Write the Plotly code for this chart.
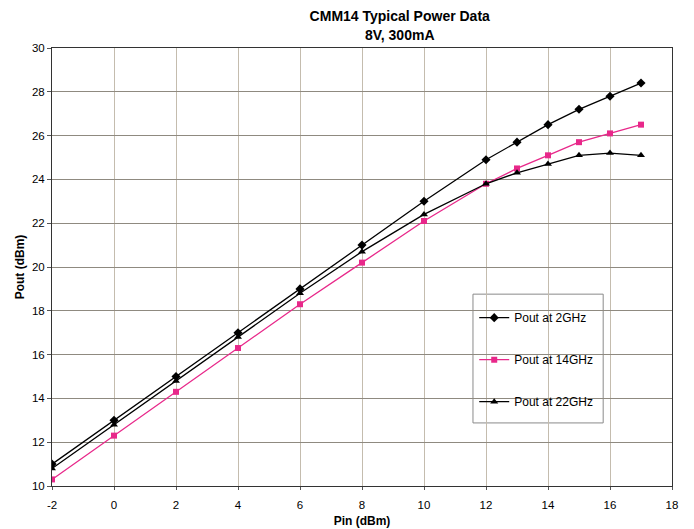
import plotly.graph_objects as go

pin = [-2, 0, 2, 4, 6, 8, 10, 12, 13, 14, 15, 16, 17]
pout_2ghz = [11.0, 13.0, 15.0, 17.0, 19.0, 21.0, 23.0, 24.9, 25.7, 26.5, 27.2, 27.8, 28.4]
pout_14ghz = [10.3, 12.3, 14.3, 16.3, 18.3, 20.2, 22.1, 23.8, 24.5, 25.1, 25.7, 26.1, 26.5]
pout_22ghz = [10.8, 12.8, 14.8, 16.8, 18.8, 20.7, 22.4, 23.8, 24.3, 24.7, 25.1, 25.2, 25.1]

x_tick_vals = [-2, 0, 2, 4, 6, 8, 10, 12, 14, 16, 18]
x_tick_text = ["-2", "0", "2", "4", "6", "8", "10", "12", "14", "16", "18"]

fig = go.Figure()
fig.add_trace(go.Scatter(x=pin, y=pout_2ghz, mode="lines+markers", name="Pout at 2GHz",
                         legendgroup="a",
                         line=dict(color="black", width=1.3),
                         marker=dict(symbol="diamond", size=7, color="black")))
fig.add_trace(go.Scatter(x=pin, y=pout_14ghz, mode="lines+markers", name="Pout at 14GHz",
                         legendgroup="b",
                         line=dict(color="#e8288a", width=1.3),
                         marker=dict(symbol="square", size=6, color="#e8288a")))
fig.add_trace(go.Scatter(x=pin, y=pout_22ghz, mode="lines+markers", name="Pout at 22GHz",
                         legendgroup="c",
                         line=dict(color="black", width=1.3),
                         marker=dict(symbol="triangle-up", size=7, color="black")))

# legend frame
fig.add_shape(type="rect", xref="paper", yref="paper", x0=0.679, x1=0.889, y0=0.144, y1=0.438,
              line=dict(color="#8a8a8a", width=1), fillcolor="white", layer="below")

fig.update_layout(
    width=694, height=537,
    margin=dict(l=52, r=22, t=48, b=44),
    paper_bgcolor="white", plot_bgcolor="white",
    font=dict(family="Liberation Sans, Arial, sans-serif", size=11.5, color="black"),
    title=dict(text="<b>CMM14 Typical Power Data<br>8V, 300mA</b>", x=0.576, xanchor="center",
               y=0.960, yanchor="top", font=dict(size=14)),
    xaxis=dict(range=[-2, 18], tickvals=x_tick_vals, ticktext=x_tick_text,
               showgrid=True, gridcolor="#c4bcae", gridwidth=1,
               showline=True, linecolor="#333", linewidth=1, mirror=True, zeroline=False,
               ticks="outside", ticklen=3, tickcolor="#555", ticklabelstandoff=5,
               title=dict(text="<b>Pin (dBm)</b>", font=dict(size=12), standoff=6)),
    yaxis=dict(range=[10, 30], dtick=2, showgrid=True, gridcolor="#8f8a80", gridwidth=1,
               showline=True, linecolor="#333", linewidth=1, mirror=True, zeroline=False,
               ticks="outside", ticklen=4, tickcolor="#555",
               title=dict(text="<b>Pout (dBm)</b>", font=dict(size=12), standoff=4)),
    legend=dict(x=0.681, y=0.4175, xanchor="left", yanchor="top", bgcolor="rgba(0,0,0,0)",
                borderwidth=0, tracegroupgap=23, font=dict(size=12)),
)

css_fix = (
    "document.documentElement.style.margin='0px';"
    "document.documentElement.style.overflow='hidden';"
    "document.body.style.margin='0px';"
    "document.body.style.overflow='hidden';"
)
fig.write_html("out.html", post_script=css_fix, config={"displayModeBar": False})
